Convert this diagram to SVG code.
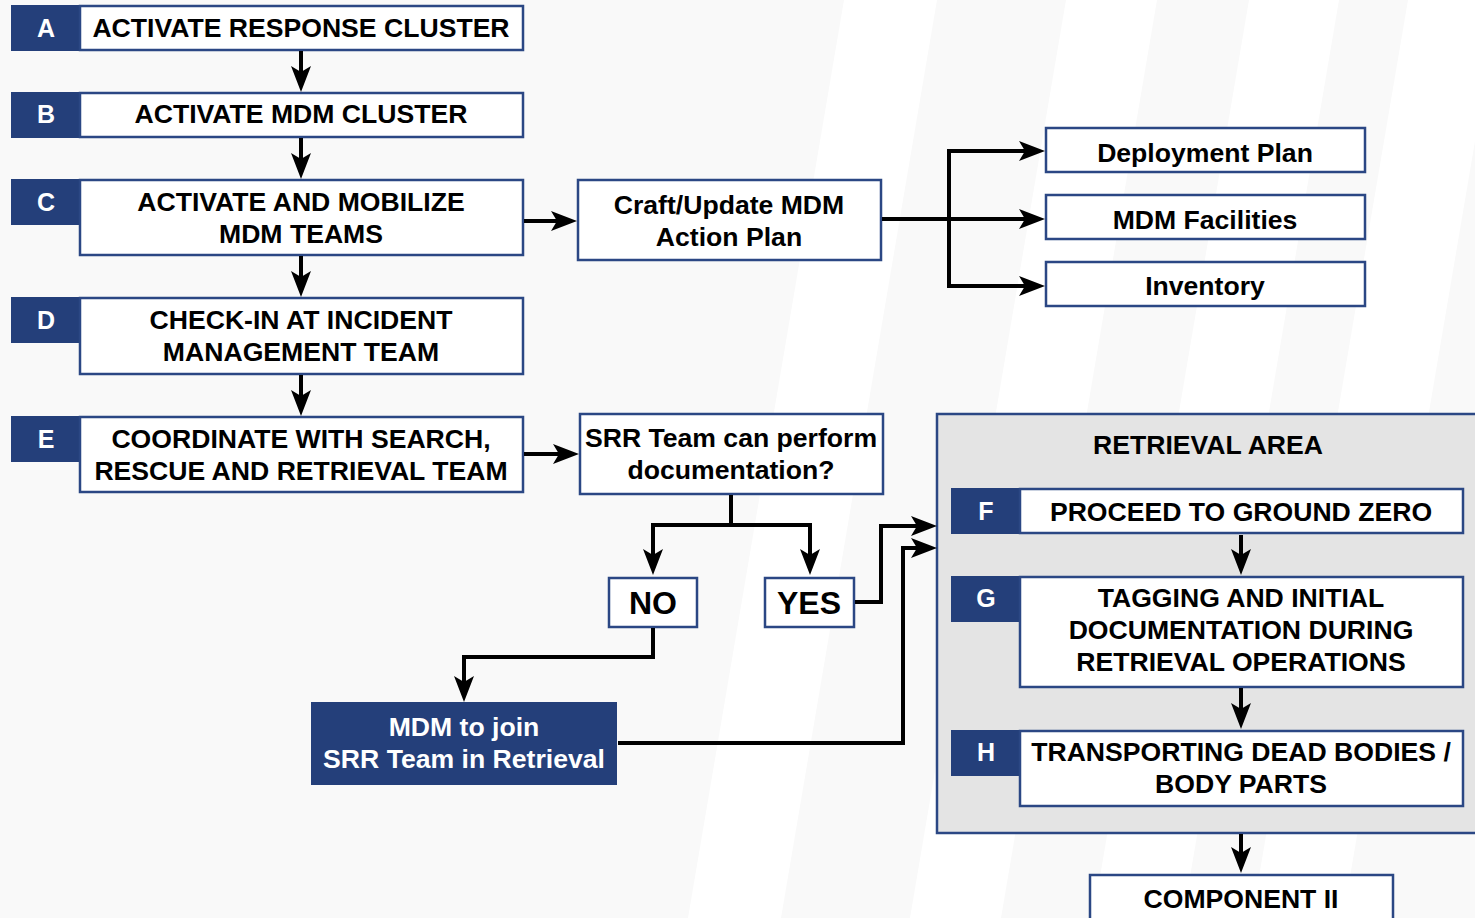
<svg xmlns="http://www.w3.org/2000/svg" width="1475" height="918" viewBox="0 0 1475 918">
  <style>
    .box { fill: #ffffff; stroke: #2b4784; stroke-width: 2.5; }
    .tab { fill: #243f7a; }
    .area { fill: #e4e4e4; stroke: #2b4784; stroke-width: 2.5; }
    .solid { fill: #243f7a; }
    text { font-family: "Liberation Sans", Arial, sans-serif; font-weight: bold; text-anchor: middle; }
    .t { font-size: 26.6px; fill: #000000; }
    .big { font-size: 32px; fill: #000000; }
    .lt { font-size: 25px; fill: #ffffff; }
    .wt { font-size: 26.6px; fill: #ffffff; }
    .link { fill: none; stroke: #000000; stroke-width: 4; stroke-linejoin: miter; marker-end: url(#head); }
  </style>
  <defs>
    <marker id="head" markerUnits="userSpaceOnUse" markerWidth="26" markerHeight="20" refX="14" refY="10" orient="auto" overflow="visible">
      <path d="M0,0 L26,10 L0,20 L6,10 Z" fill="#000000"/>
    </marker>
  </defs>

  <!-- backdrop with slanted light bands -->
  <g id="background">
    <rect x="0" y="0" width="1475" height="918" fill="#f9f9f9"/>
    <g fill="#ffffff">
      <polygon points="844,0 937,0 781,918 688,918"/>
      <polygon points="1066,0 1157,0 1001,918 910,918"/>
      <polygon points="1249,0 1339,0 1183,918 1093,918"/>
      <polygon points="1408,0 1499,0 1343,918 1252,918"/>
    </g>
  </g>

  <!-- retrieval area container -->
  <g id="retrieval-area">
    <rect class="area" x="937" y="414" width="560" height="419"/>
    <text class="t" x="1208" y="454">RETRIEVAL AREA</text>
  </g>

  <!-- step A -->
  <g id="node-a">
    <rect class="tab" x="11" y="5" width="69" height="46"/>
    <rect class="box" x="80" y="6" width="443" height="44"/>
    <text class="lt" x="46" y="37">A</text>
    <text class="t" x="301" y="37">ACTIVATE RESPONSE CLUSTER</text>
  </g>

  <!-- step B -->
  <g id="node-b">
    <rect class="tab" x="11" y="92" width="69" height="46"/>
    <rect class="box" x="80" y="93" width="443" height="44"/>
    <text class="lt" x="46" y="123">B</text>
    <text class="t" x="301" y="123">ACTIVATE MDM CLUSTER</text>
  </g>

  <!-- step C -->
  <g id="node-c">
    <rect class="tab" x="11" y="179" width="69" height="46"/>
    <rect class="box" x="80" y="180" width="443" height="75"/>
    <text class="lt" x="46" y="211">C</text>
    <text class="t" x="301" y="211">ACTIVATE AND MOBILIZE</text>
    <text class="t" x="301" y="243">MDM TEAMS</text>
  </g>

  <!-- step D -->
  <g id="node-d">
    <rect class="tab" x="11" y="297" width="69" height="46"/>
    <rect class="box" x="80" y="298" width="443" height="76"/>
    <text class="lt" x="46" y="329">D</text>
    <text class="t" x="301" y="329">CHECK-IN AT INCIDENT</text>
    <text class="t" x="301" y="361">MANAGEMENT TEAM</text>
  </g>

  <!-- step E -->
  <g id="node-e">
    <rect class="tab" x="11" y="416" width="69" height="46"/>
    <rect class="box" x="80" y="417" width="443" height="75"/>
    <text class="lt" x="46" y="448">E</text>
    <text class="t" x="301" y="448">COORDINATE WITH SEARCH,</text>
    <text class="t" x="301" y="480">RESCUE AND RETRIEVAL TEAM</text>
  </g>

  <!-- action plan -->
  <g id="node-action-plan">
    <rect class="box" x="578" y="180" width="303" height="80"/>
    <text class="t" x="729" y="214">Craft/Update MDM</text>
    <text class="t" x="729" y="246">Action Plan</text>
  </g>

  <g id="node-deployment-plan">
    <rect class="box" x="1046" y="128" width="319" height="44"/>
    <text class="t" x="1205" y="162">Deployment Plan</text>
  </g>

  <g id="node-facilities">
    <rect class="box" x="1046" y="195" width="319" height="44"/>
    <text class="t" x="1205" y="229">MDM Facilities</text>
  </g>

  <g id="node-inventory">
    <rect class="box" x="1046" y="262" width="319" height="44"/>
    <text class="t" x="1205" y="295">Inventory</text>
  </g>

  <!-- decision -->
  <g id="node-srr-question">
    <rect class="box" x="580" y="414" width="303" height="80"/>
    <text class="t" x="731" y="447">SRR Team can perform</text>
    <text class="t" x="731" y="479">documentation?</text>
  </g>

  <g id="node-no">
    <rect class="box" x="609" y="578" width="88" height="49"/>
    <text class="big" x="653" y="614">NO</text>
  </g>

  <g id="node-yes">
    <rect class="box" x="765" y="578" width="89" height="49"/>
    <text class="big" x="809" y="614">YES</text>
  </g>

  <g id="node-join">
    <rect class="solid" x="311" y="702" width="306" height="83"/>
    <text class="wt" x="464" y="736">MDM to join</text>
    <text class="wt" x="464" y="768">SRR Team in Retrieval</text>
  </g>

  <!-- steps inside retrieval area -->
  <g id="node-f">
    <rect class="tab" x="951" y="488" width="69" height="46"/>
    <rect class="box" x="1020" y="489" width="443" height="44"/>
    <text class="lt" x="986" y="520">F</text>
    <text class="t" x="1241" y="521">PROCEED TO GROUND ZERO</text>
  </g>

  <g id="node-g">
    <rect class="tab" x="951" y="576" width="69" height="46"/>
    <rect class="box" x="1020" y="577" width="443" height="110"/>
    <text class="lt" x="986" y="607">G</text>
    <text class="t" x="1241" y="607">TAGGING AND INITIAL</text>
    <text class="t" x="1241" y="639">DOCUMENTATION DURING</text>
    <text class="t" x="1241" y="671">RETRIEVAL OPERATIONS</text>
  </g>

  <g id="node-h">
    <rect class="tab" x="951" y="730" width="69" height="46"/>
    <rect class="box" x="1020" y="731" width="443" height="75"/>
    <text class="lt" x="986" y="761">H</text>
    <text class="t" x="1241" y="761">TRANSPORTING DEAD BODIES /</text>
    <text class="t" x="1241" y="793">BODY PARTS</text>
  </g>

  <g id="node-component-ii">
    <rect class="box" x="1090" y="875" width="303" height="60"/>
    <text class="t" x="1241" y="908">COMPONENT II</text>
  </g>

  <!-- connectors -->
  <g id="connectors">
    <path class="link" d="M301,51 V80"/>
    <path class="link" d="M301,138 V167"/>
    <path class="link" d="M301,256 V285"/>
    <path class="link" d="M301,375 V404"/>
    <path class="link" d="M524,221 H565"/>
    <path class="link" d="M524,454 H567"/>
    <path class="link" d="M882,219 H1033"/>
    <path class="link" d="M949,219 V151 H1033"/>
    <path class="link" d="M949,219 V286 H1033"/>
    <path class="link" d="M731,495 V525 H653 V563"/>
    <path class="link" d="M731,525 H810 V563"/>
    <path class="link" d="M653,628 V657 H464 V690"/>
    <path class="link" d="M855,602 H881 V526 H925"/>
    <path class="link" d="M618,743 H903 V548 H925"/>
    <path class="link" d="M1241,535 V563"/>
    <path class="link" d="M1241,688 V717"/>
    <path class="link" d="M1241,834 V861"/>
  </g>
</svg>
